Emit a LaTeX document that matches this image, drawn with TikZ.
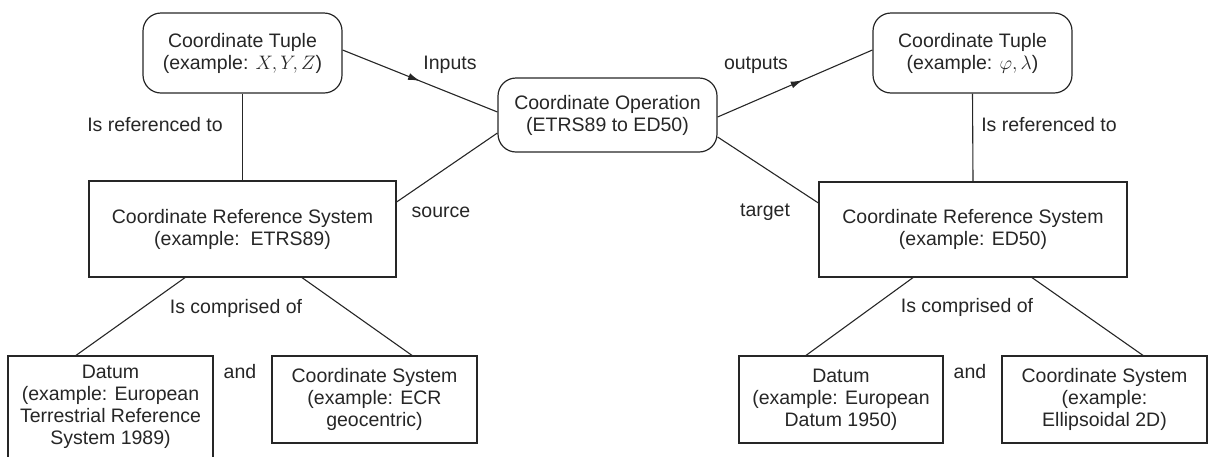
\RequirePackage{fix-cm}
\documentclass[tikz,border=0pt]{standalone}
\usepackage{fontspec}
\setmainfont{Liberation Sans}
\usetikzlibrary{calc,decorations.markings,arrows.meta}
\begin{document}
\begin{tikzpicture}[x=1pt,y=-1pt,
  every node/.style={font=\fontsize{19.5}{22}\selectfont, inner sep=0pt, text=black!85},
  box/.style={draw=black!85, line width=1.2pt, align=center},
  rbox/.style={box, rounded corners=18pt},
  conn/.style={draw=black!85, line width=1.1pt},
  midarrow/.style={postaction={decorate}, decoration={markings, mark=at position #1 with {\arrow{Latex[length=12pt,width=7pt]}}}}
]
\useasboundingbox (0,0) rectangle (1214,456);

% boxes
\node[rbox, minimum width=199pt, minimum height=80pt] (lt) at (242.5,53) {Coordinate Tuple\\(example: $X,Y,Z$)};
\node[rbox, minimum width=219pt, minimum height=74pt] (op) at (607.5,115) {Coordinate Operation\\(ETRS89 to ED50)};
\node[rbox, minimum width=199pt, minimum height=80pt] (rt) at (972.5,53) {Coordinate Tuple\\(example: $\varphi,\lambda$)};
\node[box, minimum width=307pt, minimum height=96pt] (lcrs) at (242.5,229) {Coordinate Reference System\\(example:\ \ ETRS89)};
\node[box, minimum width=308pt, minimum height=95pt] (rcrs) at (973,229.5) {Coordinate Reference System\\(example: ED50)};
\node[box, minimum width=205pt, minimum height=102pt] (ldat) at (110.5,407) {Datum\\(example: European\\Terrestrial Reference\\System 1989)};
\node[box, minimum width=205pt, minimum height=87pt] (lcs) at (374.5,399.5) {Coordinate System\\(example: ECR\\geocentric)};
\node[box, minimum width=204pt, minimum height=87pt] (rdat) at (841,399.5) {Datum\\(example: European\\Datum 1950)};
\node[box, minimum width=205pt, minimum height=87pt] (rcs) at (1104.5,399.5) {Coordinate System\\(example:\\Ellipsoidal 2D)};

% labels
\node (lref) at (155,125) {Is referenced to};
\node (rref) at (1049,125) {Is referenced to};
\node (inp) at (450,65) {Inputs};
\node (outp) at (756,65) {outputs};
\node (src) at (441,212) {source};
\node (tgt) at (765,212) {target};
\node (lcomp) at (236,308) {Is comprised of};
\node (rcomp) at (967,307) {Is comprised of};
\node (land) at (240,372) {and};
\node (rand) at (970,372) {and};

% connectors
\draw[conn, midarrow=0.5] ($(lt.east)+(0,-3)$) -- ($(op.west)+(0,-3)$);
\draw[conn, midarrow=0.55] ($(op.east)+(0,2)$) -- ($(rt.west)+(0,-3)$);
\draw[conn] (lt.south) -- (lcrs.north);
\draw[conn] (rt.south) -- (rcrs.north);
\draw[conn] ($(op.west)+(0,18)$) -- ($(lcrs.east)+(0,-27)$);
\draw[conn] ($(op.east)+(0,22)$) -- ($(rcrs.west)+(0,-26.5)$);
\draw[conn] ($(lcrs.south)+(-57.5,0)$) -- ($(ldat.north)+(-34.5,0)$);
\draw[conn] ($(lcrs.south)+(59.5,0)$) -- ($(lcs.north)+(37.5,0)$);
\draw[conn] ($(rcrs.south)+(-60,0)$) -- ($(rdat.north)+(-35,0)$);
\draw[conn] ($(rcrs.south)+(59,0)$) -- ($(rcs.north)+(38.5,0)$);
\end{tikzpicture}
\end{document}
